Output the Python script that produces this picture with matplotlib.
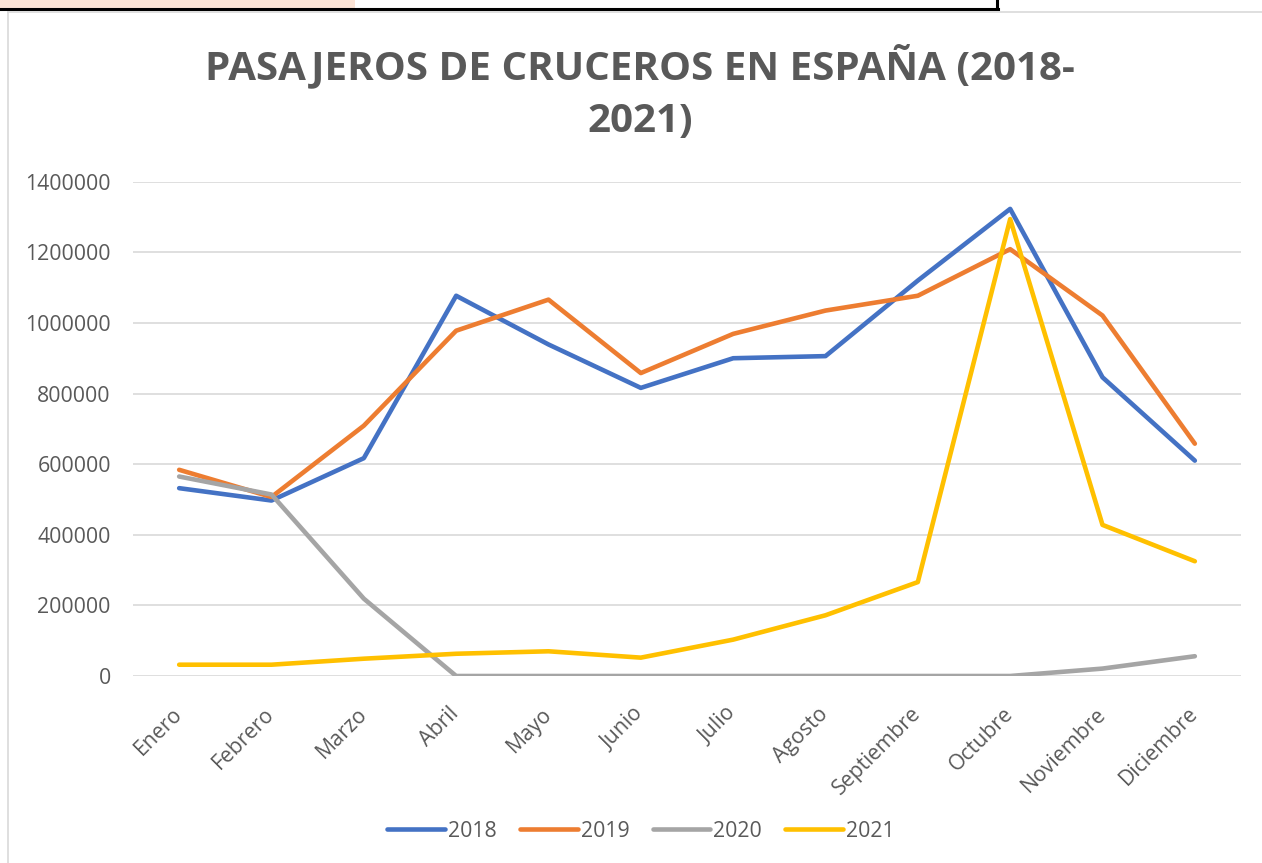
import matplotlib
matplotlib.use("Agg")
import matplotlib.pyplot as plt
from matplotlib.patches import Rectangle
from matplotlib.lines import Line2D

plt.rcParams['font.family'] = ['Open Sans', 'DejaVu Sans']

months = ["Enero", "Febrero", "Marzo", "Abril", "Mayo", "Junio", "Julio",
          "Agosto", "Septiembre", "Octubre", "Noviembre", "Diciembre"]
y2018 = [532000, 497000, 617000, 1077000, 939000, 816000, 900000, 906000, 1120000, 1323000, 846000, 610000]
y2019 = [584000, 507000, 709000, 978000, 1066000, 858000, 969000, 1035000, 1077000, 1209000, 1021000, 658000]
y2020 = [565000, 514000, 219000, 0, 0, 0, 0, 0, 0, 0, 21000, 56000]
y2021 = [32000, 32000, 49000, 63000, 70000, 52000, 103000, 172000, 266000, 1294000, 428000, 325000]
series_names = ["2018", "2019", "2020", "2021"]
colors = ["#4472C4", "#ED7D31", "#A5A5A5", "#FFC000"]
yticks = [0, 200000, 400000, 600000, 800000, 1000000, 1200000, 1400000]

W, H = 1262, 863
fig = plt.figure(figsize=(W / 100, H / 100), dpi=100)
fig.patch.set_facecolor("white")

# decorative top strip / frame
fig.patches.append(Rectangle((0, 1 - 9 / H), 355 / W, 9 / H, transform=fig.transFigure,
                             facecolor="#FCE4D6", edgecolor="none", zorder=0))
fig.lines.append(Line2D([0, 998 / W], [1 - 9 / H, 1 - 9 / H], transform=fig.transFigure,
                        color="black", lw=2.2))
fig.lines.append(Line2D([997 / W, 997 / W], [1 - 9 / H, 1], transform=fig.transFigure,
                        color="black", lw=2.2))
fig.lines.append(Line2D([8 / W, 1], [1 - 12 / H, 1 - 12 / H], transform=fig.transFigure,
                        color="#D9D9D9", lw=1.2))
fig.lines.append(Line2D([8 / W, 8 / W], [0, 1 - 12 / H], transform=fig.transFigure,
                        color="#D9D9D9", lw=1.2))

left, right = 133 / W, 1241 / W
bottom, top = 1 - 676 / H, 1 - 181.7 / H
ax = fig.add_axes([left, bottom, right - left, top - bottom])
ax.set_facecolor("none")

x = list(range(len(months)))
for name, vals, c in zip(series_names, [y2018, y2019, y2020, y2021], colors):
    ax.plot(x, vals, color=c, lw=3.3, label=name, solid_capstyle="round",
            solid_joinstyle="round")

ax.set_xlim(-0.5, len(months) - 0.5)
ax.set_ylim(0, 1400000)
ax.set_yticks(yticks)
ax.set_yticklabels([str(v) for v in yticks])
ax.grid(axis="y", color="#D9D9D9", lw=1.2)
ax.set_axisbelow(True)
for s in ax.spines.values():
    s.set_visible(False)
ax.tick_params(axis="y", length=0, pad=16, labelsize=15.3, labelcolor="#595959")
ax.tick_params(axis="x", length=0, pad=25, labelsize=15.3, labelcolor="#595959")
ax.set_xticks(x)
ax.set_xticklabels(months, rotation=45, ha="right", va="center", rotation_mode="anchor")

fig.text(640 / W, 1 - 92 / H, "PASAJEROS DE CRUCEROS EN ESPAÑA (2018-\n2021)",
         ha="center", va="center", fontsize=29, fontweight="bold", color="#595959",
         linespacing=1.45)

leg = fig.legend(loc="center", bbox_to_anchor=(641 / W, 1 - 831 / H), ncol=4,
                 frameon=False, fontsize=15.3, handlelength=2.7, handletextpad=0.15,
                 columnspacing=1.1)
for t in leg.get_texts():
    t.set_color("#595959")

fig.savefig("out.png", dpi=100)
